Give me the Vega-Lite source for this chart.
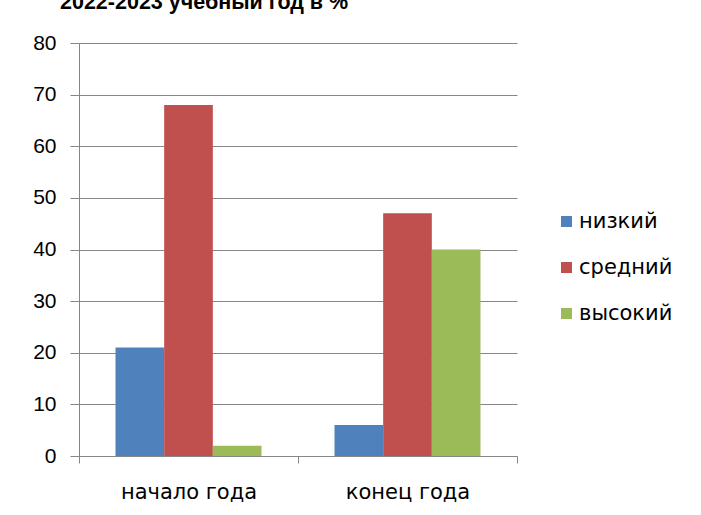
{
  "$schema": "https://vega.github.io/schema/vega-lite/v6.json",
  "width": 438,
  "height": 413,
  "autosize": "none",
  "padding": {"left": 79, "top": 43, "right": 184, "bottom": 59},
  "background": "white",
  "title": {
    "text": "2022-2023 учебный год в %",
    "anchor": "start",
    "font": "Liberation Sans",
    "fontSize": 21.5,
    "fontWeight": "bold",
    "color": "black",
    "baseline": "alphabetic",
    "frame": "group",
    "offset": 0,
    "dx": -19,
    "dy": -2
  },
  "data": {
    "values": [
      {"period": "начало года", "level": "низкий", "value": 21},
      {"period": "начало года", "level": "средний", "value": 68},
      {"period": "начало года", "level": "высокий", "value": 2},
      {"period": "конец года", "level": "низкий", "value": 6},
      {"period": "конец года", "level": "средний", "value": 47},
      {"period": "конец года", "level": "высокий", "value": 40}
    ]
  },
  "mark": {"type": "bar"},
  "encoding": {
    "x": {
      "field": "period",
      "type": "nominal",
      "sort": ["начало года", "конец года"],
      "scale": {"paddingInner": 0, "paddingOuter": 0},
      "axis": {
        "title": null,
        "labelAngle": 0,
        "tickBand": "extent",
        "domainColor": "#868686",
        "tickColor": "#868686",
        "tickSize": 7,
        "labelFont": "DejaVu Sans",
        "labelFontSize": 21,
        "labelColor": "black",
        "labelPadding": 18
      }
    },
    "xOffset": {
      "field": "level",
      "type": "nominal",
      "sort": ["низкий", "средний", "высокий"],
      "scale": {"paddingInner": 0, "paddingOuter": 0.75}
    },
    "y": {
      "field": "value",
      "type": "quantitative",
      "scale": {"domain": [0, 80], "nice": false},
      "axis": {
        "title": null,
        "values": [0, 10, 20, 30, 40, 50, 60, 70, 80],
        "grid": true,
        "gridColor": "#868686",
        "domainColor": "#868686",
        "tickColor": "#868686",
        "tickSize": 9,
        "labelFont": "Liberation Sans",
        "labelFontSize": 21,
        "labelColor": "black",
        "labelPadding": 14
      }
    },
    "color": {
      "field": "level",
      "type": "nominal",
      "sort": ["низкий", "средний", "высокий"],
      "scale": {
        "domain": ["низкий", "средний", "высокий"],
        "range": ["#4F81BD", "#C0504D", "#9BBB59"]
      },
      "legend": {
        "title": null,
        "orient": "none",
        "legendX": 477,
        "legendY": 168,
        "symbolType": "square",
        "symbolSize": 121,
        "symbolStrokeWidth": 0,
        "labelFont": "DejaVu Sans",
        "labelFontSize": 21,
        "labelColor": "black",
        "labelOffset": 2,
        "rowPadding": 24
      }
    }
  },
  "config": {
    "view": {"stroke": null},
    "axis": {"domainWidth": 1, "gridWidth": 1, "tickWidth": 1}
  }
}
